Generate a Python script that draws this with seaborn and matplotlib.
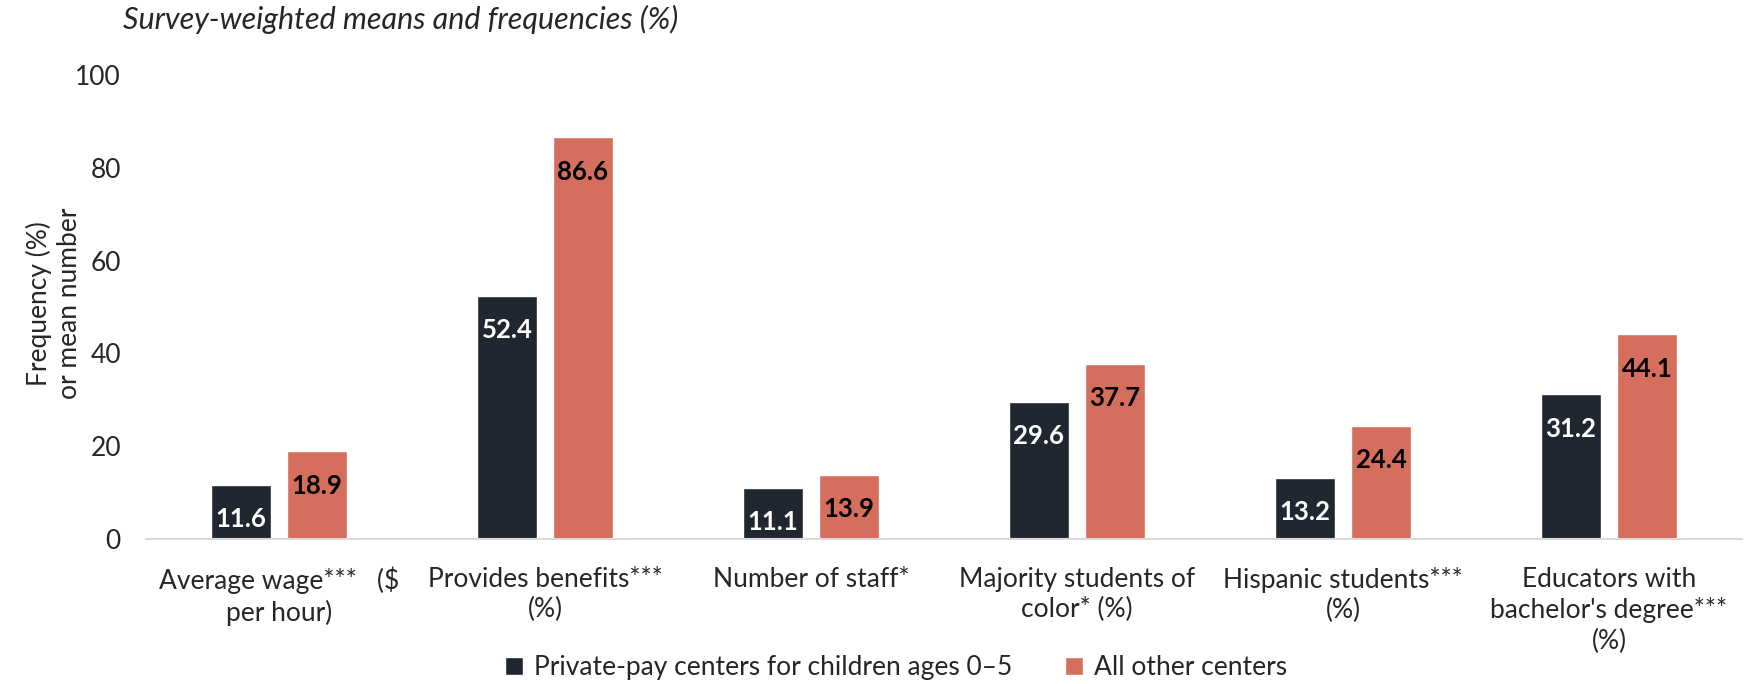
import matplotlib
matplotlib.use("Agg")
import matplotlib.pyplot as plt
import seaborn as sns
import pandas as pd

categories = [
    "Average wage***   (\\$\nper hour)",
    "Provides benefits***\n(%)",
    "Number of staff*",
    "Majority students of\ncolor* (%)",
    "Hispanic students***\n(%)",
    "Educators with\nbachelor's degree***\n(%)",
]
series_names = ["Private-pay centers for children ages 0\u20135", "All other centers"]
private_pay = [11.6, 52.4, 11.1, 29.6, 13.2, 31.2]
all_other = [18.9, 86.6, 13.9, 37.7, 24.4, 44.1]
yticks = [0, 20, 40, 60, 80, 100]

colors = ["#212730", "#D56E5D"]
label_colors = ["white", "black"]

sns.set_theme(style="white")
plt.rcParams["font.family"] = ["Lato", "DejaVu Sans"]

df = pd.DataFrame({
    "category": categories * 2,
    "series": [series_names[0]] * 6 + [series_names[1]] * 6,
    "value": private_pay + all_other,
})

fig = plt.figure(figsize=(17.5, 6.84), dpi=100)
ax = fig.add_axes([0.0834, 0.212, 0.912, 0.678])

sns.barplot(data=df, x="category", y="value", hue="series", order=categories,
            hue_order=series_names, palette=colors, width=0.572, gap=0.21,
            saturation=1, ax=ax, legend=True)

ax.set_ylim(0, 100)
ax.set_yticks(yticks)
ax.set_yticklabels([str(t) for t in yticks], fontsize=19)
ax.set_xlim(-0.5, len(categories) - 0.5)
ax.tick_params(axis="y", length=0, pad=18)
ax.tick_params(axis="x", length=0, pad=20)
for lbl in ax.get_xticklabels():
    lbl.set_fontsize(19)
    lbl.set_linespacing(1.27)
    lbl.set_ha("center")

for s in ["top", "right", "left"]:
    ax.spines[s].set_visible(False)
ax.spines["bottom"].set_color("#D9D9D9")
ax.spines["bottom"].set_linewidth(1.5)

ax.set_xlabel("")
ax.set_ylabel("")
fig.text(0.031, 0.556, "Frequency (%)\nor mean number", fontsize=19, rotation=90,
         ha="center", va="center", linespacing=1.25)

for cont, tc in zip(ax.containers, label_colors):
    for bar in cont:
        h = bar.get_height()
        ax.annotate(f"{h:.1f}", (bar.get_x() + bar.get_width() / 2, h),
                    xytext=(0, -16), textcoords="offset points",
                    ha="center", va="top", fontsize=18.5, fontweight="bold", color=tc)

handles, labels = ax.get_legend_handles_labels()
ax.legend_.remove()
fig.legend(handles, labels, loc="center", bbox_to_anchor=(0.512, 0.024), ncol=2,
           frameon=False, fontsize=19, handlelength=0.7, handleheight=0.7,
           handletextpad=0.4, columnspacing=2.0)

fig.text(0.070, 0.971, "Survey-weighted means and frequencies (%)", fontsize=22,
         style="italic", ha="left", va="center")

fig.savefig("out.png", dpi=100)
